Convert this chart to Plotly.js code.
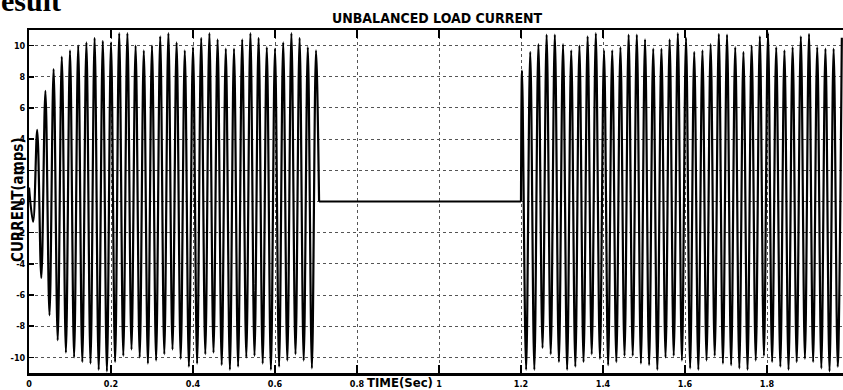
<!DOCTYPE html>
<html>
<head>
<meta charset="utf-8">
<script src="https://cdn.plot.ly/plotly-3.0.1.min.js"></script>
<style>html,body{margin:0;padding:0;background:#fff;}#chart{width:843px;height:390px;}</style>
</head>
<body>
<div id="chart"></div>
<script>
// ---- data ----
// segment 1: positive peaks (one per 50 Hz cycle, starting at t = 0) and negative troughs
const seg1Start = 0.0;
const seg1Pos = [0.9, 4.6, 7.1, 8.5, 9.3, 9.7, 10.0, 10.2, 10.5, 10.3, 10.2, 10.8, 10.8, 10.0, 9.7, 10.0, 10.6, 10.8,
                 10.2, 9.7, 9.9, 10.5, 10.8, 10.4, 9.8, 9.8, 10.4, 10.8, 10.5, 9.9, 9.8, 10.2, 10.8, 10.5, 9.9, 9.7];
const seg1Neg = [-1.3, -4.9, -7.3, -8.9, -9.7, -10.0, -10.3, -10.4, -10.8, -10.9, -10.3, -9.9, -9.5, -10.0, -10.4, -10.2,
                 -9.8, -9.5, -10.1, -10.6, -10.4, -9.8, -9.7, -10.5, -10.8, -10.6, -10.0, -9.9, -10.4, -10.8, -10.6,
                 -10.2, -9.8, -10.2, -10.7];
const seg1Off = 0.7075;   // time where current drops to zero
// segment 2
const seg2On = 1.2;       // time where current resumes
const seg2Start = 1.2025;
const seg2Pos = [8.4, 9.6, 10.1, 10.7, 10.7, 10.1, 9.7, 10.0, 10.6, 10.8, 9.7, 9.7, 9.9, 10.7, 10.7, 10.4, 9.8, 9.8,
                 10.4, 10.8, 10.5, 9.6, 9.7, 10.1, 10.75, 10.7, 9.9, 9.6, 10.0, 10.6, 10.8, 9.9, 9.7, 9.9, 10.6,
                 10.75, 9.9, 9.8, 9.8, 10.5];
const seg2Neg = [-10.8, -10.8, -9.4, -9.8, -10.3, -10.8, -10.6, -10.3, -9.8, -10.1, -10.5, -10.3, -9.9, -9.9, -10.4,
                 -10.5, -10.8, -10.0, -9.9, -10.2, -10.7, -10.8, -10.2, -9.9, -10.4, -10.5, -10.7, -10.8, -10.2,
                 -9.9, -10.3, -10.6, -10.8, -10.3, -10.1, -10.3, -10.7, -10.9, -10.6];
const period = 0.02;
const xTickVals = [0, 0.2, 0.4, 0.6, 0.8, 1, 1.2, 1.4, 1.6, 1.8];
const xTickText = ["0", "0.2", "0.4", "0.6", "0.8", "1", "1.2", "1.4", "1.6", "1.8"];
const yTickVals = [-10, -8, -6, -4, -2, 0, 2, 4, 6, 8, 10];
const yTickText = ["-10", "-8", "-6", "-4", "-2", "0", "2", "4", "6", "8", "10"];

function build(start, pos, neg) {
  const x = [], y = [];
  for (let k = 0; k < pos.length; k++) {
    x.push(start + period * k); y.push(pos[k]);
    if (k < neg.length) { x.push(start + period * k + period / 2); y.push(neg[k]); }
  }
  return {x, y};
}
const s1 = build(seg1Start, seg1Pos, seg1Neg);
s1.x.push(seg1Off); s1.y.push(0);
const s2 = build(seg2Start, seg2Pos, seg2Neg);
s2.x.unshift(seg2On); s2.y.unshift(0);

const lineStyle = {color: '#000', width: 2.2};
const traces = [
  {x: s1.x, y: s1.y, mode: 'lines', line: Object.assign({shape: 'spline', smoothing: 1}, lineStyle), hoverinfo: 'skip'},
  {x: [seg1Off, seg2On], y: [0, 0], mode: 'lines', line: {color: '#000', width: 2.2}, hoverinfo: 'skip'},
  {x: s2.x, y: s2.y, mode: 'lines', line: Object.assign({shape: 'spline', smoothing: 1}, lineStyle), hoverinfo: 'skip'}
];

const narrow = "'Liberation Sans Narrow', 'Arial Narrow', 'DejaVu Sans Condensed', sans-serif";
const L = 29, R = 0, T = 30, B = 17, W = 843, H = 390;
const pw = W - L - R, ph = H - T - B;
const px = v => (v - L) / pw;
const py = v => (H - B - v) / ph;

const layout = {
  width: W, height: H,
  margin: {l: L, r: R, t: T, b: B, pad: 0},
  paper_bgcolor: '#fff', plot_bgcolor: '#fff',
  showlegend: false,
  xaxis: {
    range: [0, pw / 410], tickvals: xTickVals, ticktext: xTickText,
    ticks: 'inside', ticklen: 8, tickwidth: 1.5, tickcolor: '#000',
    showline: true, linecolor: '#000', linewidth: 2.5, mirror: 'ticks',
    showgrid: true, gridcolor: '#555', gridwidth: 1, griddash: 'dot',
    zeroline: false, ticklabelstandoff: 1,
    tickfont: {family: narrow, size: 9, color: '#000', weight: 'bold'}
  },
  yaxis: {
    range: [-11, 11], tickvals: yTickVals, ticktext: yTickText,
    ticks: 'inside', ticklen: 5, tickwidth: 1.5, tickcolor: '#000',
    showline: true, linecolor: '#000', linewidth: 2, mirror: false,
    showgrid: true, gridcolor: '#555', gridwidth: 1, griddash: 'dot',
    zeroline: false, ticklabelstandoff: 0,
    tickfont: {family: narrow, size: 9, color: '#000', weight: 'bold'}
  },
  annotations: [
    {text: 'UNBALANCED LOAD CURRENT', xref: 'paper', yref: 'paper', x: px(437), y: py(18),
     xanchor: 'center', yanchor: 'middle', showarrow: false,
     font: {family: narrow, size: 14, color: '#000', weight: 'bold'}},
    {text: 'TIME(Sec)', xref: 'paper', yref: 'paper', x: px(400), y: py(382),
     xanchor: 'center', yanchor: 'middle', showarrow: false,
     font: {family: narrow, size: 13, color: '#000', weight: 'bold'}},
    {text: 'CURRENT(amps)', xref: 'paper', yref: 'paper', x: px(18), y: py(200), textangle: -90,
     xanchor: 'center', yanchor: 'middle', showarrow: false,
     font: {family: narrow, size: 15, color: '#000', weight: 'bold'}},
    {text: 'esult', xref: 'paper', yref: 'paper', x: px(-1), y: py(19),
     xanchor: 'left', yanchor: 'bottom', showarrow: false,
     font: {family: "'Liberation Serif', 'Times New Roman', serif", size: 30, color: '#000', weight: 'bold'}}
  ]
};

Plotly.newPlot('chart', traces, layout, {staticPlot: true, displayModeBar: false});
</script>
</body>
</html>
